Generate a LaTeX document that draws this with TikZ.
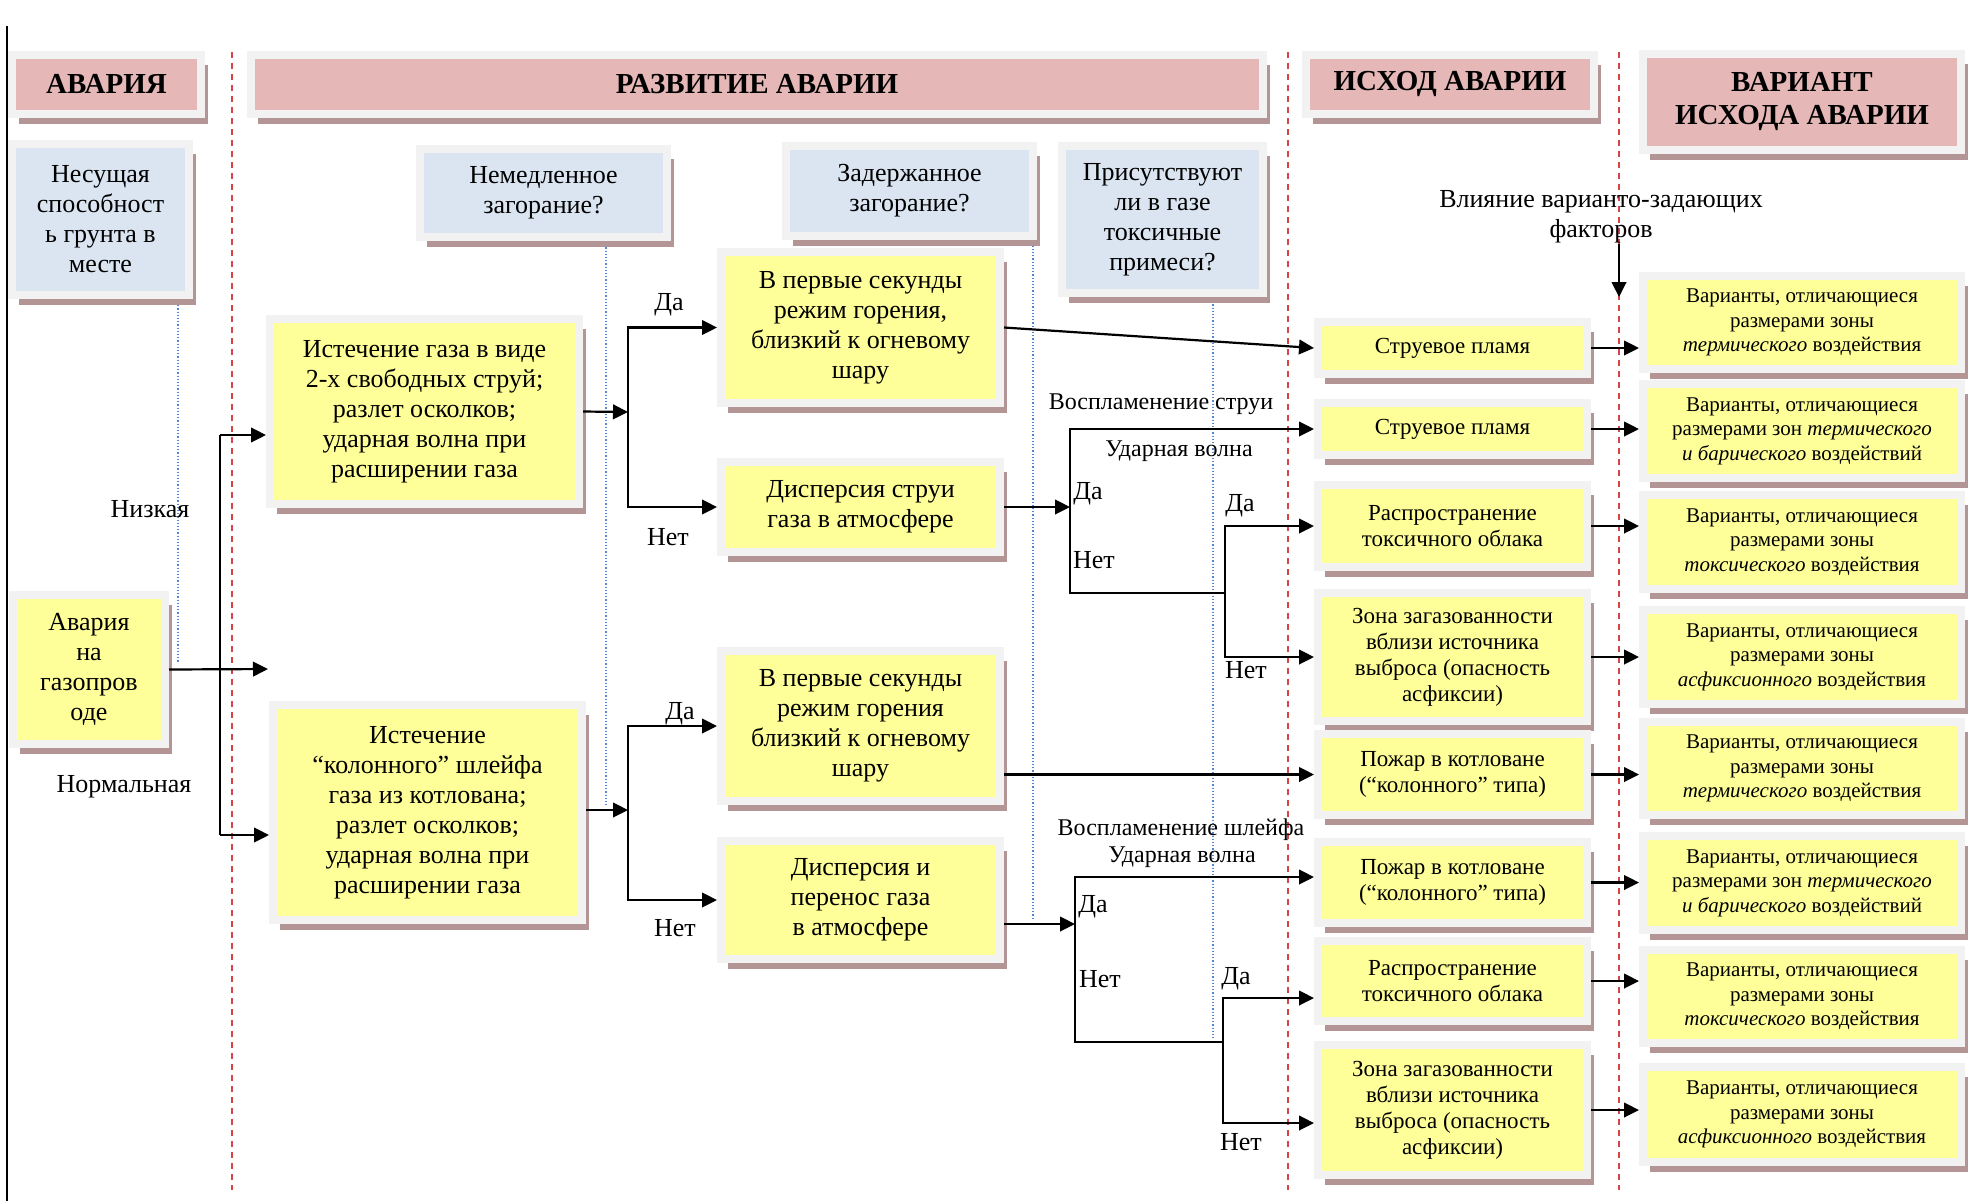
\documentclass[tikz,border=0pt]{standalone}
\usepackage{fontspec}
\setmainfont{Liberation Serif}
\usetikzlibrary{arrows.meta,shadows}

\definecolor{hdrfill}{HTML}{E5B8B7}
\definecolor{askfill}{HTML}{DBE5F1}
\definecolor{evfill}{HTML}{FFFF99}
\definecolor{framegray}{HTML}{F2F2F2}
\definecolor{shadowrose}{HTML}{B39595}
\definecolor{sepred}{HTML}{D64545}
\definecolor{guideblue}{HTML}{4F86D6}

\tikzset{
  box/.style={draw=framegray, line width=4pt, inner sep=0pt, align=center,
    drop shadow={shadow xshift=3.25pt, shadow yshift=-5pt, fill=shadowrose, opacity=1}},
  hdr/.style={box, fill=hdrfill, font=\fontsize{14.5}{16.5}\selectfont\bfseries},
  ask/.style={box, fill=askfill, font=\fontsize{13}{15}\selectfont},
  ev/.style={box, fill=evfill, font=\fontsize{13}{15}\selectfont},
  result/.style={box, fill=evfill, font=\fontsize{11.5}{13}\selectfont},
  variant/.style={box, fill=evfill, font=\fontsize{10.5}{12.25}\selectfont},
  lbl/.style={inner sep=0pt, align=center, font=\fontsize{13}{15}\selectfont},
  smalllbl/.style={lbl, font=\fontsize{12}{14}\selectfont},
  arr/.style={line width=1.1pt, -{Triangle[length=7.5pt,width=7.3pt]}},
  link/.style={line width=1.1pt},
  sep/.style={sepred, line width=0.6pt, dash pattern=on 3pt off 2.5pt},
  guide/.style={guideblue, line width=0.6pt, densely dotted}
}

\begin{document}
\begin{tikzpicture}[x=0.5pt,y=0.5pt,yscale=-1,xscale=1]
\useasboundingbox (0,0) rectangle (1968,1201);

%Straight Lines [left border]
\draw[line width=1pt] (7,26) -- (7,1201);

%Dashed Lines [column borders]
\draw[sep] (232,52) -- (232,1190);
\draw[sep] (1288,52) -- (1288,1190);
\draw[sep] (1619,52) -- (1619,1190);

%Dotted Lines [question guides]
\draw[guide] (178,302) -- (178,662);
\draw[guide] (606,241) -- (606,805);
\draw[guide] (1033,236) -- (1033,920);
\draw[guide] (1213,298) -- (1213,1038);

%Shape: Rectangle [headers]
\node[hdr, minimum width=94.5pt, minimum height=29.5pt] (hAcc) at (106.5,84) {АВАРИЯ};
\node[hdr, minimum width=506pt, minimum height=29.5pt] (hDev) at (757,84) {РАЗВИТИЕ АВАРИИ};
\node[hdr, minimum width=144pt, minimum height=29.5pt] (hRes) at (1450,84) {ИСХОД АВАРИИ};
\node[hdr, minimum width=159pt, minimum height=48pt] (hVar) at (1802,102) {ВАРИАНТ\\ИСХОДА АВАРИИ};

%Shape: Rectangle [questions]
\node[ask, minimum width=88.5pt, minimum height=75.5pt] (qSoil) at (100.5,219.5) {Несущая\\способност\\ь грунта в\\месте};
\node[ask, minimum width=123.5pt, minimum height=44pt] (qNow) at (543.5,193) {Немедленное\\загорание?};
\node[ask, minimum width=123.5pt, minimum height=45pt] (qLate) at (909.5,191) {Задержанное\\загорание?};
\node[ask, minimum width=100.5pt, minimum height=73.5pt] (qTox) at (1162.5,219.5) {Присутствуют\\ли в газе\\токсичные\\примеси?};

%Shape: Rectangle [events]
\node[ev, minimum width=76pt, minimum height=74.5pt] (src) at (89,669.5) {Авария\\на\\газопров\\оде};
\node[ev, minimum width=154.5pt, minimum height=92.5pt] (jet) at (424.5,411.5) {Истечение газа в виде\\2-х свободных струй;\\разлет осколков;\\ударная волна при\\расширении газа};
\node[ev, minimum width=154.5pt, minimum height=107.5pt] (plume) at (427.5,812.5) {Истечение\\“колонного” шлейфа\\газа из котлована;\\разлет осколков;\\ударная волна при\\расширении газа};
\node[ev, minimum width=139.5pt, minimum height=75.5pt] (fire1) at (860.5,327.5) {В первые секунды\\режим горения,\\близкий к огневому\\шару};
\node[ev, minimum width=139.5pt, minimum height=45pt] (disp1) at (860.5,507) {Дисперсия струи\\газа в атмосфере};
\node[ev, minimum width=139.5pt, minimum height=75pt] (fire2) at (860.5,726) {В первые секунды\\режим горения\\близкий к огневому\\шару};
\node[ev, minimum width=139.5pt, minimum height=59pt] (disp2) at (860.5,900) {Дисперсия и\\перенос газа\\в атмосфере};

%Shape: Rectangle [outcomes]
\node[result, minimum width=134.5pt, minimum height=26pt] (o1) at (1452.5,348) {Струевое пламя};
\node[result, minimum width=134.5pt, minimum height=26pt] (o2) at (1452.5,429) {Струевое пламя};
\node[result, minimum width=134.5pt, minimum height=41pt] (o3) at (1452.5,526) {Распространение\\токсичного облака};
\node[result, minimum width=134.5pt, minimum height=64pt] (o4) at (1452.5,657) {Зона загазованности\\вблизи источника\\выброса (опасность\\асфиксии)};
\node[result, minimum width=134.5pt, minimum height=40.5pt] (o5) at (1452.5,774.5) {Пожар в котловане\\(“колонного” типа)};
\node[result, minimum width=134.5pt, minimum height=40.5pt] (o6) at (1452.5,882.5) {Пожар в котловане\\(“колонного” типа)};
\node[result, minimum width=134.5pt, minimum height=40pt] (o7) at (1452.5,981) {Распространение\\токсичного облака};
\node[result, minimum width=134.5pt, minimum height=65pt] (o8) at (1452.5,1110) {Зона загазованности\\вблизи источника\\выброса (опасность\\асфиксии)};

%Shape: Rectangle [variants]
\node[variant, minimum width=159pt, minimum height=46.5pt] (v1) at (1802,322.5) {Варианты, отличающиеся\\размерами зоны\\\textit{термического} воздействия};
\node[variant, minimum width=159pt, minimum height=47pt] (v2) at (1802,431) {Варианты, отличающиеся\\размерами зон \textit{термического}\\\textit{и барического} воздействий};
\node[variant, minimum width=159pt, minimum height=47pt] (v3) at (1802,542) {Варианты, отличающиеся\\размерами зоны\\\textit{токсического} воздействия};
\node[variant, minimum width=159pt, minimum height=47pt] (v4) at (1802,657) {Варианты, отличающиеся\\размерами зоны\\\textit{асфиксионного} воздействия};
\node[variant, minimum width=159pt, minimum height=46.5pt] (v5) at (1802,768.5) {Варианты, отличающиеся\\размерами зоны\\\textit{термического} воздействия};
\node[variant, minimum width=159pt, minimum height=47pt] (v6) at (1802,883) {Варианты, отличающиеся\\размерами зон \textit{термического}\\\textit{и барического} воздействий};
\node[variant, minimum width=159pt, minimum height=46.5pt] (v7) at (1802,996.5) {Варианты, отличающиеся\\размерами зоны\\\textit{токсического} воздействия};
\node[variant, minimum width=159pt, minimum height=47.5pt] (v8) at (1802,1114.5) {Варианты, отличающиеся\\размерами зоны\\\textit{асфиксионного} воздействия};

% Text Node
\node[lbl] (lLow) at (150,509) {Низкая};
\node[lbl] (lNorm) at (124,787) {Нормальная};
\node[lbl] (lYesA) at (669,305) {Да};
\node[lbl] (lNoA) at (668,537) {Нет};
\node[lbl] (lYesB) at (680,714) {Да};
\node[lbl] (lNoB) at (675,928) {Нет};
\node[smalllbl] (lJet) at (1161,404) {Воспламенение струи};
\node[smalllbl] (lWaveC) at (1179,451) {Ударная волна};
\node[lbl] (lYesC) at (1088,494) {Да};
\node[lbl] (lNoC) at (1094,560) {Нет};
\node[lbl] (lYesC2) at (1240,506) {Да};
\node[lbl] (lNoC2) at (1246,670) {Нет};
\node[smalllbl] (lPlume) at (1181,830) {Воспламенение шлейфа};
\node[smalllbl] (lWaveD) at (1182,857) {Ударная волна};
\node[lbl] (lYesD) at (1093,907) {Да};
\node[lbl] (lNoD) at (1100,979) {Нет};
\node[lbl] (lYesD2) at (1236,979) {Да};
\node[lbl] (lNoD2) at (1241,1142) {Нет};
\node[lbl] (lFactors) at (1601,217) {Влияние варианто-задающих\\факторов};

% Coordinates [branch points]
\coordinate (forkT) at (220,435);
\coordinate (forkB) at (220,835);
\coordinate (gap) at (268,669);
\coordinate (brA) at (628,412);
\coordinate (brB) at (628,810);
\coordinate (brC) at (1070,507);
\coordinate (brC2) at (1225,593);
\coordinate (brD) at (1075,924);
\coordinate (brDtop) at (1075,877);
\coordinate (brD2) at (1223,1042);
\coordinate (brD2top) at (1223,998);
\coordinate (brD2bot) at (1223,1123);
\coordinate (factTip) at (1619,297);

%Straight Lines [accident to development]
\draw[arr] (src.east) -- (gap);
\draw[link] (forkT) -- (forkB);
\draw[arr] (forkT) -- (forkT -| jet.west);
\draw[arr] (forkB) -- (forkB -| plume.west);

%Straight Lines [immediate ignition]
\draw[arr] (jet.east) -- (brA);
\draw[arr] (brA) |- (fire1.west);
\draw[arr] (brA) |- (disp1.west);
\draw[arr] (plume.east |- brB) -- (brB);
\draw[arr] (brB) |- (fire2.west);
\draw[arr] (brB) |- (disp2.west);

%Straight Lines [delayed ignition]
\draw[arr] (fire1.east) -- (o1.west);
\draw[arr] (disp1.east) -- (brC);
\draw[arr] (brC) |- (o2.west);
\draw[link] (brC) |- (brC2);
\draw[arr] (brC2) |- (o3.west);
\draw[arr] (brC2) |- (o4.west);
\draw[arr] (fire2.east |- o5.west) -- (o5.west);
\draw[arr] (disp2.east |- brD) -- (brD);
\draw[arr] (brD) -- (brDtop) -- (brDtop -| o6.west);
\draw[link] (brD) |- (brD2);
\draw[arr] (brD2) -- (brD2top) -- (brD2top -| o7.west);
\draw[arr] (brD2) -- (brD2bot) -- (brD2bot -| o8.west);

%Straight Lines [outcome to variant]
\foreach \i in {1,...,8}
  \draw[arr] (o\i.east) -- (o\i.east -| v\i.west);
\draw[arr] (lFactors.south -| factTip) -- (factTip);

\end{tikzpicture}
\end{document}
